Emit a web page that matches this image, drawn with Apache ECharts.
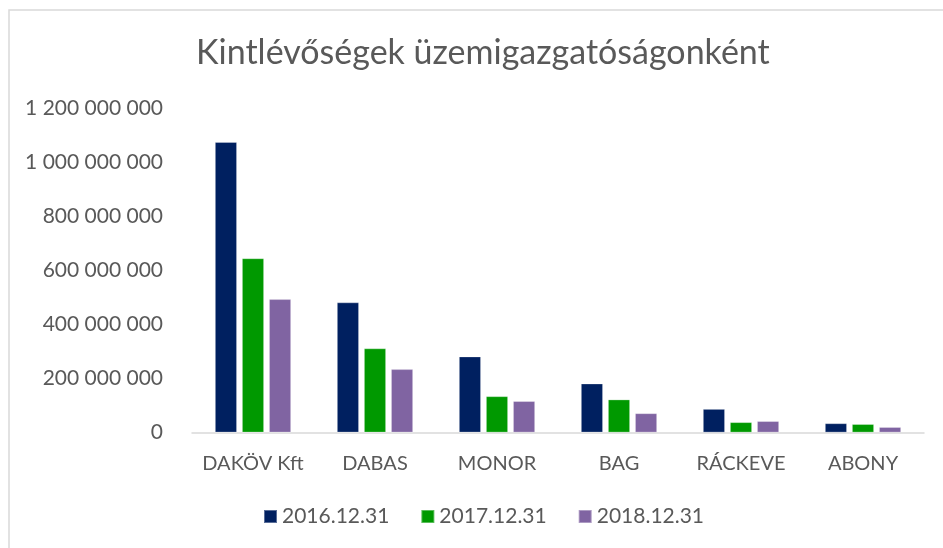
<!DOCTYPE html>
<html>
<head>
<meta charset="utf-8">
<script src="https://cdn.jsdelivr.net/npm/echarts@6/dist/echarts.min.js"></script>
<style>
  html, body { margin: 0; padding: 0; background: #fff; }
  #chart { width: 943px; height: 548px; }
</style>
</head>
<body>
<div id="chart"></div>
<script>
// Adatok
const categories = ['DAKÖV Kft', 'DABAS', 'MONOR', 'BAG', 'RÁCKEVE', 'ABONY'];
const seriesNames = ['2016.12.31', '2017.12.31', '2018.12.31'];
const values2016 = [1074000000, 481000000, 281000000, 181000000, 87000000, 34000000];
const values2017 = [644000000, 311000000, 134000000, 122000000, 38000000, 31000000];
const values2018 = [493000000, 234000000, 116000000, 71000000, 42000000, 20000000];
const colors = ['#002060', '#009900', '#8064a2'];

const FONT = 'Lato';
const fmt = (v) => String(v).replace(/\B(?=(\d{3})+(?!\d))/g, ' ');

const chart = echarts.init(document.getElementById('chart'));

const makeBar = (name, data, color) => ({
  name,
  type: 'bar',
  data,
  barWidth: 22,
  barGap: '23%',
  itemStyle: { color, borderColor: 'rgba(255,255,255,0.35)', borderWidth: 0.8 },
});

chart.setOption({
  animation: false,
  textStyle: { fontFamily: FONT },
  graphic: [{
    type: 'rect',
    shape: { x: 9, y: 10, width: 1000, height: 600 },
    style: { fill: 'none', stroke: '#d9d9d9', lineWidth: 1.5 },
    silent: true,
  }],
  title: {
    text: 'Kintlévőségek üzemigazgatóságonként',
    left: 191,
    top: 31,
    textStyle: { fontFamily: FONT, fontSize: 34, fontWeight: 'normal', color: '#595959' },
  },
  grid: { left: 192, right: 19, top: 108, bottom: 115.5, containLabel: false },
  xAxis: {
    type: 'category',
    data: categories,
    axisLine: { lineStyle: { color: '#d9d9d9', width: 1.5 } },
    axisTick: { show: false },
    axisLabel: { color: '#595959', fontSize: 20, fontFamily: FONT, margin: 21, interval: 0 },
  },
  yAxis: {
    type: 'value',
    min: 0,
    max: 1200000000,
    interval: 200000000,
    axisLine: { show: false },
    axisTick: { show: false },
    splitLine: { show: false },
    axisLabel: { color: '#595959', fontSize: 21, fontFamily: FONT, margin: 29, formatter: fmt },
  },
  legend: {
    bottom: 16,
    left: 258,
    itemWidth: 13,
    itemHeight: 13,
    itemGap: 31,
    icon: 'rect',
    textStyle: { color: '#595959', fontSize: 21, fontFamily: FONT },
    data: seriesNames,
  },
  series: [
    makeBar(seriesNames[0], values2016, colors[0]),
    makeBar(seriesNames[1], values2017, colors[1]),
    makeBar(seriesNames[2], values2018, colors[2]),
  ],
});
</script>
</body>
</html>
